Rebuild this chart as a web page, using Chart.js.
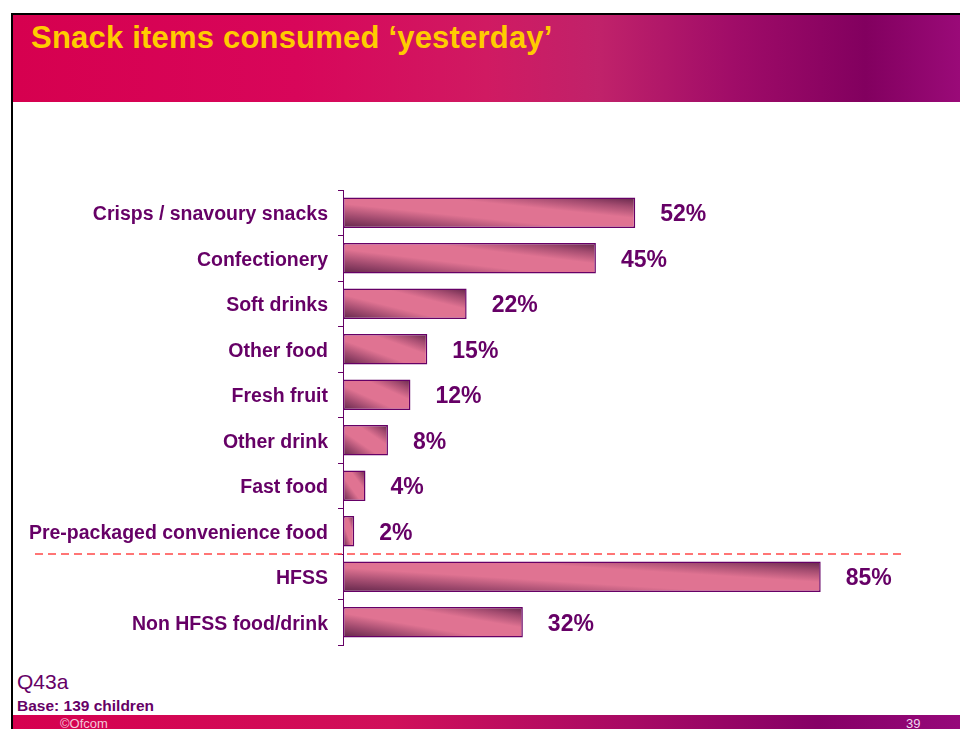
<!DOCTYPE html>
<html>
<head>
<meta charset="utf-8">
<script src="https://cdn.jsdelivr.net/npm/chart.js@4"></script>
<style>
  html, body { margin: 0; padding: 0; background: #fff; }
  body { width: 960px; height: 729px; position: relative; overflow: hidden; font-family: "Liberation Sans", Arial, sans-serif; }
  #frame { position: absolute; left: 11px; top: 13px; width: 960px; height: 720px; border-left: 2px solid #000; border-top: 2px solid #000; }
  #header { position: absolute; left: 13px; top: 15px; width: 947px; height: 87px;
    background: linear-gradient(90deg, #d6004f 0%, #d8065a 30%, #d01a62 50%, #c0226a 62%, #a00c68 76%, #82005f 90%, #9a0a78 100%); }
  #title { position: absolute; left: 31px; top: 20px; font: bold 31px "Liberation Sans", Arial, sans-serif; letter-spacing: 0.2px; color: #ffcc00; white-space: nowrap; }
  #q { position: absolute; left: 17px; top: 670px; font: 21px "Liberation Sans", Arial, sans-serif; color: #660066; }
  #base { position: absolute; left: 17px; top: 697px; font: bold 15.5px "Liberation Sans", Arial, sans-serif; color: #660066; }
  #footer { position: absolute; left: 13px; top: 715px; width: 947px; height: 14px;
    background: linear-gradient(90deg, #d6004f 0%, #d0105a 40%, #a80a64 65%, #860066 85%, #96087a 100%); }
  #ofcom { position: absolute; left: 47px; top: 1px; font: 13px "Liberation Sans", Arial, sans-serif; color: #f3c8d8; }
  #page { position: absolute; left: 893px; top: 1px; font: 13px "Liberation Sans", Arial, sans-serif; color: #f0d8ee; }
  #wrap { position: absolute; left: 0; top: 0; width: 960px; height: 729px; }
</style>
</head>
<body>
<div id="frame"></div>
<div id="header"></div>
<div id="title">Snack items consumed ‘yesterday’</div>
<div id="q">Q43a</div>
<div id="base">Base: 139 children</div>
<div id="footer"><span id="ofcom">©Ofcom</span><span id="page">39</span></div>
<div id="wrap"><canvas id="myChart"></canvas></div>
<script>
const categories = ['Crisps / snavoury snacks', 'Confectionery', 'Soft drinks', 'Other food', 'Fresh fruit',
  'Other drink', 'Fast food', 'Pre-packaged convenience food', 'HFSS', 'Non HFSS food/drink'];
const values = [52, 45, 22, 15, 12, 8, 4, 2, 85, 32];
const valueLabels = ['52%', '45%', '22%', '15%', '12%', '8%', '4%', '2%', '85%', '32%'];
const dividerAfter = 7; // dashed line between these groups

const purple = '#660066';
const barPct = 0.67;

// pink bar shaded like a corner-to-corner gradient: dark bottom-left and top-right
function barFill(context) {
  const chart = context.chart;
  const x = chart.scales.x, y = chart.scales.y;
  if (!x || !y || context.dataIndex === undefined) return '#e07392';
  const x0 = x.getPixelForValue(0);
  const w = x.getPixelForValue(values[context.dataIndex]) - x0;
  const yc = y.getPixelForValue(context.dataIndex);
  const h = Math.abs(y.getPixelForValue(1) - y.getPixelForValue(0)) * barPct;
  if (![x0, w, yc, h].every(Number.isFinite) || w <= 0) return '#e07392';
  const yb = yc + h / 2;
  const k = 2 * w * h / (w * w + h * h);
  const g = chart.ctx.createLinearGradient(x0, yb, x0 + h * k, yb - w * k);
  g.addColorStop(0, '#62264a');
  g.addColorStop(0.2, '#a04a6e');
  g.addColorStop(0.4, '#e07392');
  g.addColorStop(0.66, '#e07392');
  g.addColorStop(0.84, '#a44c70');
  g.addColorStop(1, '#64264a');
  return g;
}

const extras = {
  id: 'extras',
  afterDatasetsDraw(chart) {
    const ctx = chart.ctx;
    const meta = chart.getDatasetMeta(0);
    ctx.save();
    ctx.font = 'bold 23px "Liberation Sans", Arial, sans-serif';
    ctx.fillStyle = purple;
    ctx.textAlign = 'left';
    ctx.textBaseline = 'middle';
    meta.data.forEach((bar, i) => {
      ctx.fillText(valueLabels[i], bar.x + 25, bar.y + 2);
    });
    // dashed divider between the item list and the HFSS summary
    const y = chart.scales.y;
    const yd = Math.round((y.getPixelForValue(dividerAfter) + y.getPixelForValue(dividerAfter + 1)) / 2);
    ctx.strokeStyle = '#ff4848';
    ctx.lineWidth = 1.5;
    ctx.setLineDash([8, 5]);
    ctx.beginPath();
    ctx.moveTo(35, yd);
    ctx.lineTo(902, yd);
    ctx.stroke();
    ctx.restore();
  }
};

const ctx = document.getElementById('myChart').getContext('2d');
const chart = new Chart(ctx, {
  type: 'bar',
  data: {
    labels: categories,
    datasets: [{
      data: values,
      backgroundColor: barFill,
      borderColor: purple,
      borderWidth: 1.5,
      borderSkipped: false,
      barPercentage: barPct,
      categoryPercentage: 1
    }]
  },
  options: {
    indexAxis: 'y',
    responsive: true,
    maintainAspectRatio: false,
    animation: false,
    layout: { padding: { top: 190, bottom: 84, left: 0, right: 55 } },
    plugins: { legend: { display: false }, tooltip: { enabled: false } },
    scales: {
      x: { display: false, min: 0, max: 100 },
      y: {
        afterFit(scale) { scale.width = 343; },
        border: { display: true, color: purple, width: 1 },
        grid: { offset: true, drawOnChartArea: false, drawTicks: true, tickLength: 5, color: purple },
        ticks: {
          color: purple,
          padding: 10,
          labelOffset: 2,
          font: { family: '"Liberation Sans", Arial, sans-serif', size: 19.5, weight: 'bold' }
        }
      }
    }
  },
  plugins: [extras]
});
</script>
</body>
</html>
